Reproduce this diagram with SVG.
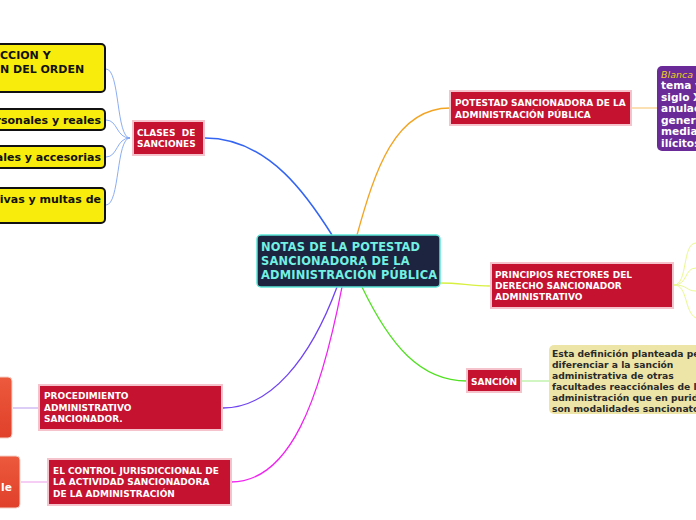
<svg xmlns="http://www.w3.org/2000/svg" width="696" height="520" viewBox="0 0 696 520">
<style>
.red{fill:#c41230;stroke:#f5c3cb;stroke-width:2}
.rt{font-family:"DejaVu Sans",Verdana,sans-serif;font-weight:bold;font-size:9px;fill:#ffffff}
.yel{fill:#f8ec0c;stroke:#111;stroke-width:2}
.yt{font-family:"DejaVu Sans",Verdana,sans-serif;font-weight:bold;font-size:11px;fill:#111}
.ct{font-family:"DejaVu Sans",Verdana,sans-serif;font-weight:bold;font-size:11.4px;letter-spacing:0.2px;fill:#72f0e2}
.pt{font-family:"DejaVu Sans",Verdana,sans-serif;font-weight:bold;font-size:10.6px;fill:#ffffff}
.tt{font-family:"DejaVu Sans",Verdana,sans-serif;font-weight:bold;font-size:9.2px;fill:#2a2a2a}
.c{fill:none}
</style>
<defs>
<linearGradient id="og" x1="0" y1="0" x2="0" y2="1">
<stop offset="0" stop-color="#ec5a3c"/><stop offset="1" stop-color="#e0402a"/>
</linearGradient>
</defs>
<g id="connectors">
<path class="c" d="M205,138 C270,138 310,200 332,235" stroke="#3464f2" stroke-width="1.5"/>
<path class="c" d="M130,138 C116,138 120,69 106,69" stroke="#7fa4f2" stroke-width="0.9"/>
<path class="c" d="M130,138 C116,138 118,120 106,120" stroke="#7fa4f2" stroke-width="0.9"/>
<path class="c" d="M130,138 C116,138 118,157 106,157" stroke="#7fa4f2" stroke-width="0.9"/>
<path class="c" d="M130,138 C116,138 120,205 106,205" stroke="#7fa4f2" stroke-width="0.9"/>
<path class="c" d="M357,235 C375,170 395,108 450,108" stroke="#f2a422" stroke-width="1.3"/>
<path class="c" d="M631,108 L657,108" stroke="#f8cf8a" stroke-width="1.3"/>
<path class="c" d="M440,283 C460,283 470,286 491,286" stroke="#d8f040" stroke-width="1.3"/>
<path class="c" d="M674,285 C688,285 682,243 696,243" stroke="#eaf890" stroke-width="1"/>
<path class="c" d="M674,285 C688,285 684,268 696,268" stroke="#eaf890" stroke-width="1"/>
<path class="c" d="M674,285 C688,285 686,291 696,291" stroke="#eaf890" stroke-width="1"/>
<path class="c" d="M674,285 C688,285 684,312 696,318" stroke="#eaf890" stroke-width="1"/>
<path class="c" d="M362,287 C390,345 420,381 467,381" stroke="#52e022" stroke-width="1.3"/>
<path class="c" d="M521,381 L549,381" stroke="#b8f2a0" stroke-width="1.3"/>
<path class="c" d="M337,287 C310,360 270,408 223,408" stroke="#7044f0" stroke-width="1.3"/>
<path class="c" d="M39,408 L13,408" stroke="#c9b2f2" stroke-width="1.3"/>
<path class="c" d="M342,287 C320,400 290,482 231,482" stroke="#f022f0" stroke-width="1.3"/>
<path class="c" d="M48,482 L21,482" stroke="#f2b2f0" stroke-width="1.3"/>
</g>
<g id="central">
<rect x="257" y="235" width="183" height="52" rx="4" fill="#1d2440" stroke="#5ce8d8" stroke-width="1.5"/>
<text class="ct" x="261" y="251">NOTAS DE LA POTESTAD</text>
<text class="ct" x="261" y="265">SANCIONADORA DE LA</text>
<text class="ct" x="261" y="279">ADMINISTRACIÓN PÚBLICA</text>
</g>
<g id="clases">
<rect class="red" x="133" y="121" width="71" height="34"/>
<text class="rt" x="137" y="136" xml:space="preserve">CLASES  DE</text>
<text class="rt" x="137" y="147">SANCIONES</text>
</g>
<g id="yellow1">
<rect class="yel" x="-10" y="44" width="115" height="48" rx="4"/>
<text class="yt" x="0" y="59">CCION Y</text>
<text class="yt" x="0" y="73">N DEL ORDEN</text>
</g>
<g id="yellow2">
<rect class="yel" x="-10" y="109" width="115" height="21" rx="4"/>
<text class="yt" x="101" y="124" text-anchor="end">rsonales y reales</text>
</g>
<g id="yellow3">
<rect class="yel" x="-10" y="146" width="115" height="22" rx="4"/>
<text class="yt" x="101" y="161" text-anchor="end">ales y accesorias</text>
</g>
<g id="yellow4">
<rect class="yel" x="-10" y="188" width="115" height="35" rx="4"/>
<text class="yt" x="101" y="203" text-anchor="end">ivas y multas de</text>
</g>
<g id="potestad">
<rect class="red" x="450" y="91" width="181" height="34"/>
<text class="rt" x="455" y="106">POTESTAD SANCIONADORA DE LA</text>
<text class="rt" x="455" y="118">ADMINISTRACIÓN PÚBLICA</text>
</g>
<g id="blanca">
<rect x="657" y="66" width="60" height="85" rx="5" fill="#6a2a98"/>
<text x="661" y="78" font-family="DejaVu Sans,Verdana,sans-serif" font-style="italic" font-size="9.5px" fill="#f0d020">Blanca</text>
<text class="pt" x="661" y="89">tema y</text>
<text class="pt" x="661" y="101">siglo X</text>
<text class="pt" x="661" y="112">anulac</text>
<text class="pt" x="661" y="124">genera</text>
<text class="pt" x="661" y="135">median</text>
<text class="pt" x="661" y="147">ilícitos</text>
</g>
<g id="principios">
<rect class="red" x="491" y="263" width="182" height="45"/>
<text class="rt" x="495" y="278">PRINCIPIOS RECTORES DEL</text>
<text class="rt" x="495" y="289">DERECHO SANCIONADOR</text>
<text class="rt" x="495" y="300">ADMINISTRATIVO</text>
</g>
<g id="sancion">
<rect class="red" x="467" y="369" width="54" height="23"/>
<text class="rt" x="471" y="385">SANCIÓN</text>
</g>
<g id="definicion">
<rect x="549" y="345" width="160" height="69" rx="5" fill="#ede5a8"/>
<text class="tt" x="552" y="357">Esta definición planteada per</text>
<text class="tt" x="552" y="368">diferenciar a la sanción</text>
<text class="tt" x="552" y="379">administrativa de otras</text>
<text class="tt" x="552" y="390">facultades reacciónales de la</text>
<text class="tt" x="552" y="401">administración que en purida</text>
<text class="tt" x="552" y="412">son modalidades sancionator</text>
</g>
<g id="procedimiento">
<rect class="red" x="39" y="385" width="183" height="45"/>
<text class="rt" x="44" y="399">PROCEDIMIENTO</text>
<text class="rt" x="44" y="411">ADMINISTRATIVO</text>
<text class="rt" x="44" y="422">SANCIONADOR.</text>
</g>
<g id="left1">
<rect x="-10" y="377" width="22" height="61" rx="4" fill="url(#og)" stroke="#f4d0c8" stroke-width="1"/>
</g>
<g id="control">
<rect class="red" x="48" y="459" width="183" height="46"/>
<text class="rt" x="53" y="474">EL CONTROL JURISDICCIONAL DE</text>
<text class="rt" x="53" y="485">LA ACTIVIDAD SANCIONADORA</text>
<text class="rt" x="53" y="497">DE LA ADMINISTRACIÓN</text>
</g>
<g id="left2">
<rect x="-10" y="456" width="30" height="52" rx="4" fill="url(#og)" stroke="#f4d0c8" stroke-width="1"/>
<text class="pt" x="1" y="491" font-size="10px">le</text>
</g>
</svg>
